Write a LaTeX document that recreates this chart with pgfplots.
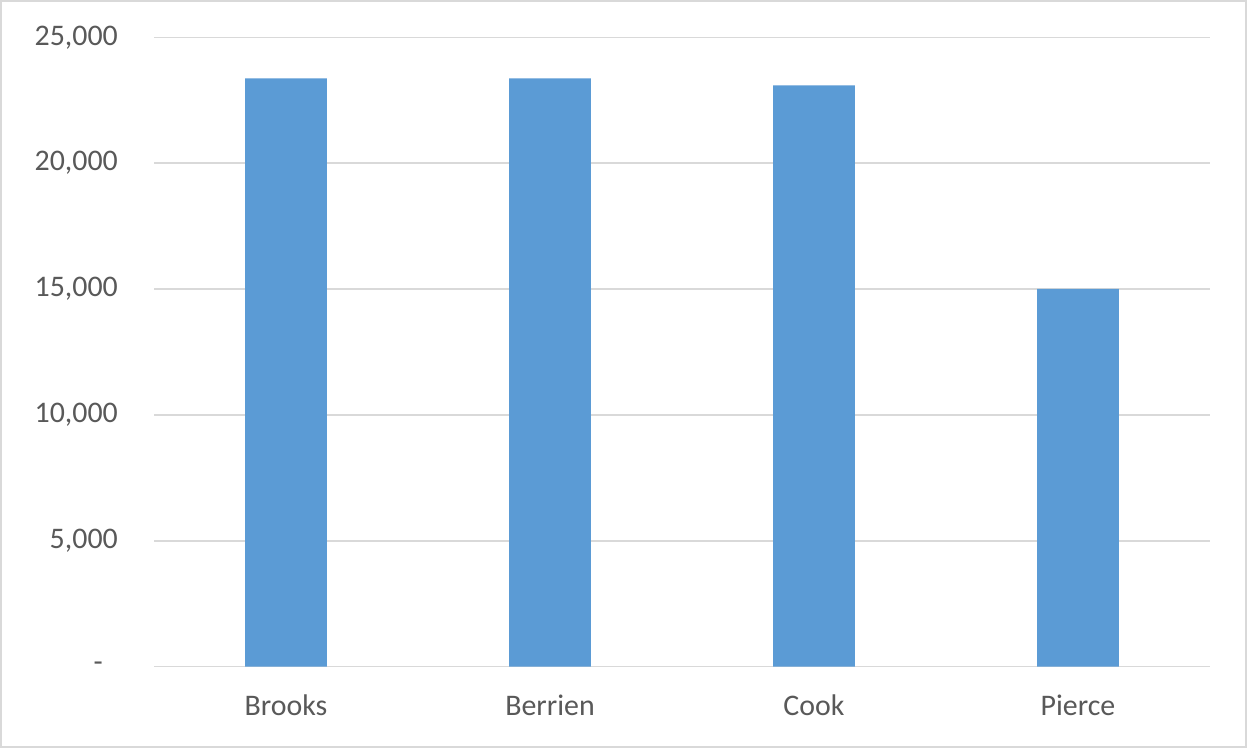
\documentclass[border=0pt]{standalone}
\usepackage{pgfplots}
\pgfplotsset{compat=1.18}
\usepackage{fontspec}
\setmainfont{Carlito}
\definecolor{barblue}{HTML}{5B9BD5}
\definecolor{txtgray}{HTML}{595959}
\definecolor{gridgray}{HTML}{D9D9D9}
\definecolor{framegray}{HTML}{D9D9D9}
\begin{document}
\begin{tikzpicture}
\fill[white] (0,0) rectangle (1247bp,748bp);
\draw[framegray, line width=2bp] (1bp,1bp) rectangle (1246bp,747bp);
\begin{axis}[
  at={(154bp,81.3bp)}, anchor=south west,
  scale only axis, width=1056bp, height=629.4bp,
  xmin=-0.5, xmax=3.5, ymin=0, ymax=25000,
  scaled ticks=false,
  axis line style={draw=none},
  tick style={draw=none},
  ymajorgrids, grid style={gridgray, line width=1.5bp},
  xtick={0,1,2,3},
  xticklabels={Brooks,Berrien,Cook,Pierce},
  ytick={0,5000,10000,15000,20000,25000},
  yticklabels={{-\rule{15bp}{0pt}},{5,000},{10,000},{15,000},{20,000},{25,000}},
  ticklabel style={font=\fontsize{30}{35}\selectfont, text=txtgray},
  xticklabel style={anchor=base, inner sep=0pt, yshift=-45bp},
  yticklabel style={anchor=east, inner sep=0pt, xshift=-36bp},
  /pgf/number format/assume math mode=true,
  ybar, bar width=0.31,
  clip=false,
]
\addplot[fill=barblue, draw=none] coordinates {(0,23370) (1,23370) (2,23090) (3,15010)};
\end{axis}
\end{tikzpicture}
\end{document}
